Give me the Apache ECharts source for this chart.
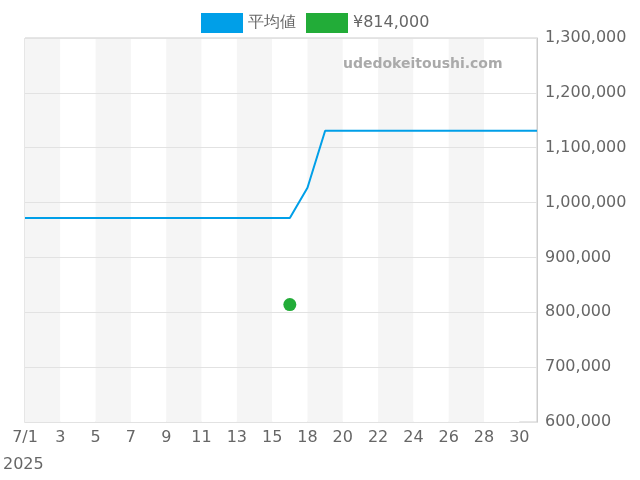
<!DOCTYPE html>
<html><head><meta charset="utf-8">
<script src="https://cdn.jsdelivr.net/npm/echarts@6/dist/echarts.min.js"></script>
<style>html,body{margin:0;padding:0}#c{width:640px;height:480px}</style>
</head><body><div id="c"></div>
<script>
const categories = ['7/1','7/2','7/3','7/4','7/5','7/6','7/7','7/8','7/9','7/10','7/11','7/12','7/13','7/14','7/15','7/16','7/18','7/19','7/20','7/21','7/22','7/23','7/24','7/25','7/26','7/27','7/28','7/29','7/30','7/31'];
const avgValues = [972000,972000,972000,972000,972000,972000,972000,972000,972000,972000,972000,972000,972000,972000,972000,972000,1027000,1131000,1131000,1131000,1131000,1131000,1131000,1131000,1131000,1131000,1131000,1131000,1131000,1131000];
const pointValues = categories.map(c => c === '7/16' ? 814000 : null);
const chart = echarts.init(document.getElementById('c'));
const F = 'DejaVu Sans';
chart.setOption({
  animation:false,
  textStyle:{fontFamily:F},
  legend:{top:8,left:196,itemWidth:42,itemHeight:20,itemGap:10,textStyle:{fontSize:16,color:'#666',fontFamily:F},
    data:[{name:'平均値',icon:'rect'},{name:'¥814,000',icon:'rect'}]},
  graphic:[{type:'text',left:343,top:57,z:100,style:{text:'udedokeitoushi.com',fontFamily:F,fontSize:14,fontWeight:'bold',fill:'#aaa'}},
    {type:'text',left:3,top:457,z:100,style:{text:'2025',fontFamily:F,fontSize:16,fill:'#666'}}],
  grid:{left:25,right:103,top:38,bottom:58,show:true,borderColor:'#ccc',borderWidth:1,backgroundColor:'transparent'},
  xAxis:{type:'category',boundaryGap:false,data:categories,
    axisLine:{lineStyle:{color:'#ccc'}},axisTick:{show:false,interval:1},
    axisLabel:{interval:1,color:'#666',fontSize:16,formatter:(v,i)=>i===0?v:v.split('/')[1]},
    splitArea:{show:true,interval:1,areaStyle:{color:['#f5f5f5','#ffffff']}},
    splitLine:{show:false}},
  yAxis:{type:'value',position:'right',min:600000,max:1300000,interval:100000,z:5,
    axisLine:{show:true,lineStyle:{color:'#ccc'}},axisTick:{show:false},
    axisLabel:{color:'#666',fontSize:16,formatter:v=>v.toLocaleString('en-US')},
    splitLine:{lineStyle:{color:'#e2e2e2'}}},
  series:[
    {name:'平均値',type:'line',z:10,data:avgValues,symbol:'none',itemStyle:{color:'#009fe8'},lineStyle:{width:2,color:'#009fe8'}},
    {name:'¥814,000',type:'scatter',z:10,data:pointValues,symbolSize:13,itemStyle:{color:'#22ac38',opacity:1}}
  ]
});
</script></body></html>
